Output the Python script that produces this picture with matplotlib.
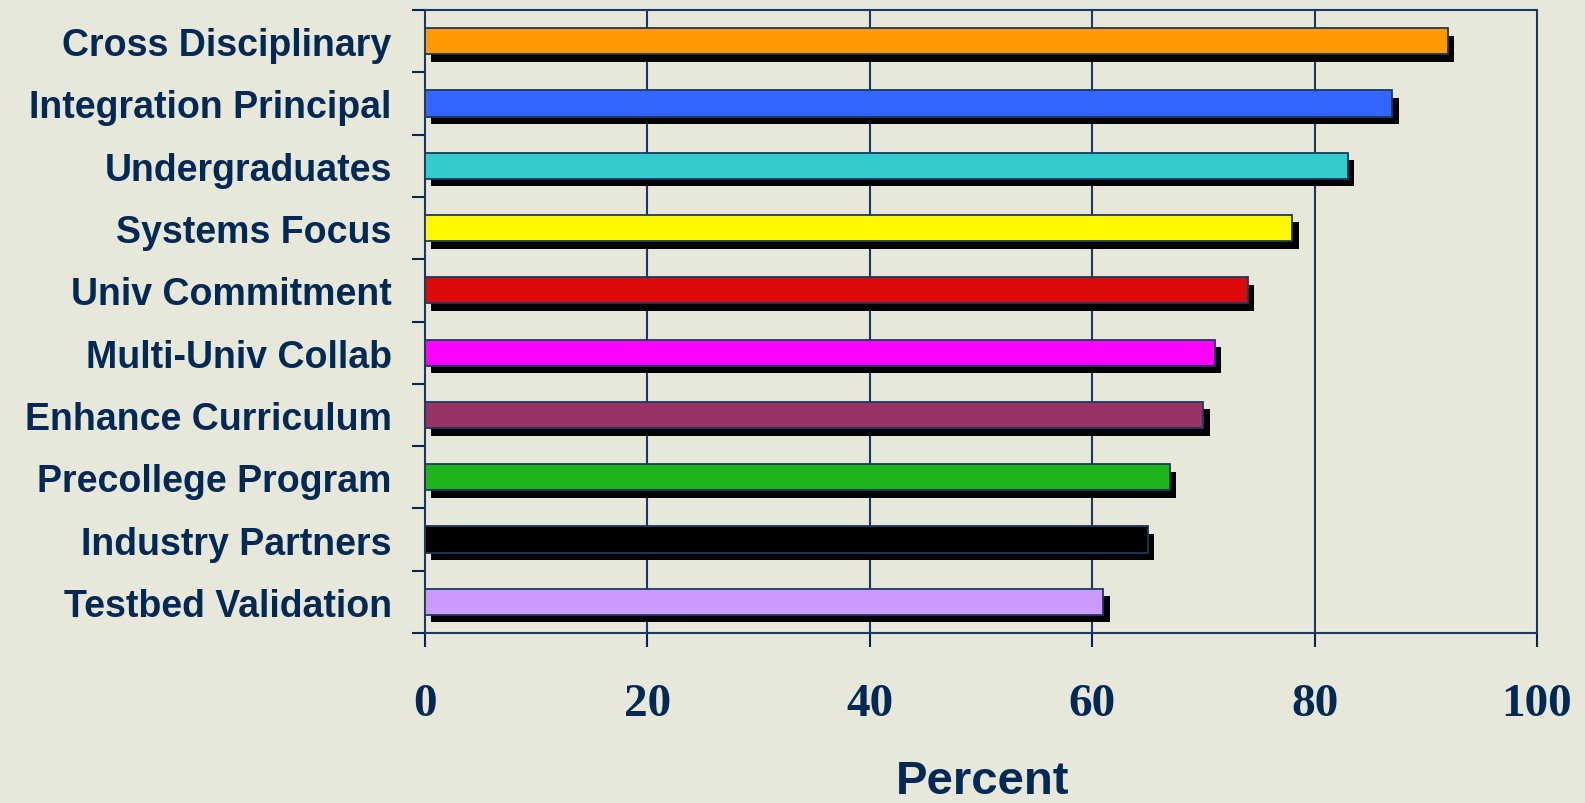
import matplotlib
matplotlib.use('Agg')
import matplotlib.pyplot as plt
import matplotlib.patheffects as pe
import numpy as np

categories = ['Cross Disciplinary', 'Integration Principal', 'Undergraduates',
              'Systems Focus', 'Univ Commitment', 'Multi-Univ Collab',
              'Enhance Curriculum', 'Precollege Program', 'Industry Partners',
              'Testbed Validation']
values = [92, 87, 83, 78, 74, 71, 70, 67, 65, 61]
colors = ['#FF9900', '#3366FF', '#33CCCC', '#FFF700', '#DD0A0A',
          '#FF00FF', '#993366', '#1FB51A', '#000000', '#CC99FF']
x_ticks = [0, 20, 40, 60, 80, 100]

navy = '#002A55'
bg = '#E8E8DA'

fig = plt.figure(figsize=(15.85, 8.04), dpi=100)
fig.patch.set_facecolor(bg)
ax = fig.add_axes([425 / 1585, 1 - 634 / 804, (1537 - 425) / 1585, (634 - 11) / 804])
ax.set_facecolor(bg)

y = np.arange(len(categories))
shadow = pe.SimplePatchShadow(offset=(4.6, -5.4), shadow_rgbFace='black', alpha=1.0)
ax.barh(y, values, height=0.42, color=colors, edgecolor='#1A3A60', linewidth=1.3,
        path_effects=[shadow, pe.Normal()], zorder=3)

ax.set_xlim(0, 100)
ax.set_ylim(len(categories) - 0.5, -0.5)

ax.set_xticks(x_ticks)
ax.set_xticklabels([str(t) for t in x_ticks], fontfamily='Liberation Serif',
                   fontweight='bold', fontsize=34, color=navy)
ax.set_yticks(y)
ax.set_yticklabels(categories, fontfamily='Liberation Sans', fontweight='bold',
                   fontsize=27, color=navy)
ax.set_yticks(np.arange(len(categories) + 1) - 0.5, minor=True)

ax.tick_params(axis='y', which='major', length=0, pad=24)
ax.tick_params(axis='y', which='minor', length=9.5, width=1.5, color=navy, direction='out')
ax.tick_params(axis='x', which='major', length=10, width=1.5, color=navy,
               direction='out', pad=26)

for gx in x_ticks[1:-1]:
    ax.axvline(gx, color='#1A3A60', linewidth=1.5, zorder=1)

for s in ax.spines.values():
    s.set_color('#1A3A60')
    s.set_linewidth(1.5)

fig.text(0.62, 1 - 794 / 804, 'Percent', ha='center', va='baseline',
         fontfamily='Liberation Sans', fontweight='bold', fontsize=34, color=navy)

fig.savefig('out.png', dpi=100, facecolor=bg)
